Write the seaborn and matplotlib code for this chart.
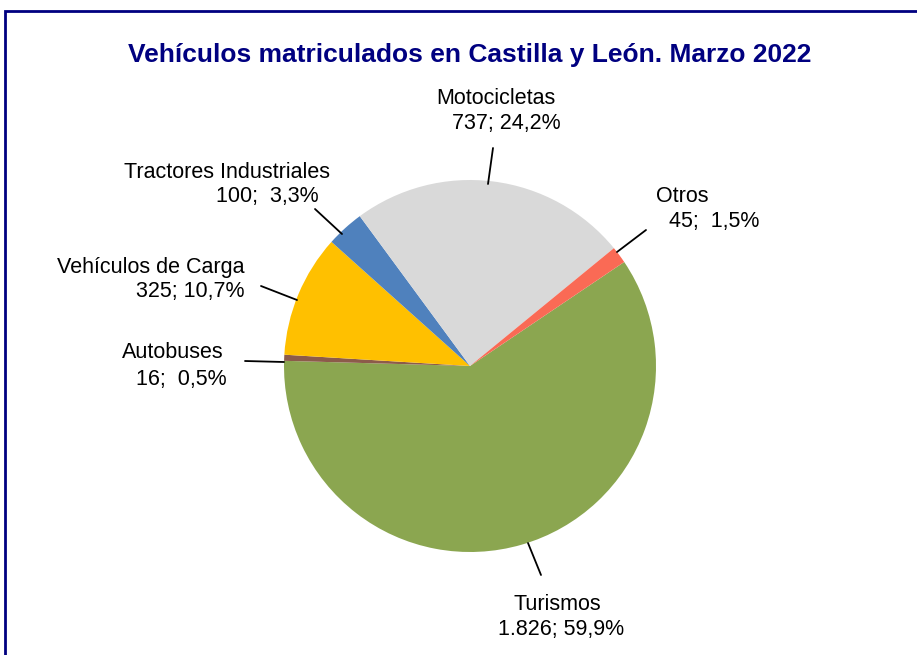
import numpy as np
import seaborn as sns
import matplotlib.pyplot as plt
from matplotlib.patches import Rectangle

categories = ["Turismos", "Autobuses", "Vehículos de Carga", "Tractores Industriales", "Motocicletas", "Otros"]
values = [1826, 16, 325, 100, 737, 45]
value_labels = ["1.826; 59,9%", "16;  0,5%", "325; 10,7%", "100;  3,3%", "737; 24,2%", "45;  1,5%"]
colors = ["#8BA650", "#8C5B4A", "#FFC000", "#4F81BD", "#D9D9D9", "#FA6A55"]

sns.set_theme(style="white")
plt.rcParams['font.family'] = ['Liberation Sans', 'DejaVu Sans']

W, H = 917, 655
CX, CY, R = 470, 366, 186  # pie centre/radius in pixels


def px(x, y):
    # pixel position -> data units (radius = 1)
    return (x - CX) / R, (CY - y) / R


# label layout in pixels: name line, value line, leader start, leader end
label_layout = {
    "Turismos": ((557, 604), (561, 630), (528, 543), (541, 575)),
    "Autobuses": ((173, 352), (181, 379), (284, 362), (245, 361)),
    "Vehículos de Carga": ((151, 267), (190, 291), (297, 300), (261, 286)),
    "Tractores Industriales": ((227, 172), (267, 196), (342, 234), (315, 209)),
    "Motocicletas": ((496, 98), (506, 124), (488, 184), (493, 148)),
    "Otros": ((682, 196), (714, 221), (617, 252), (646, 230)),
}

fig = plt.figure(figsize=(W / 100, H / 100), dpi=100)
ax = fig.add_axes([0, 0, 1, 1])

wedges, _ = ax.pie(values, colors=colors, startangle=34, counterclock=False,
                   radius=1, center=(0, 0), frame=True,
                   wedgeprops=dict(linewidth=0))
ax.set_xlim(-CX / R, (W - CX) / R)
ax.set_ylim(-(H - CY) / R, CY / R)
ax.set_aspect("auto")
ax.axis("off")

for cat, vl in zip(categories, value_labels):
    name_pos, val_pos, start_pos, end_pos = label_layout[cat]
    sx, sy = px(*start_pos)
    ex, ey = px(*end_pos)
    ax.plot([sx, ex], [sy, ey], color="black", lw=1.3)
    ax.text(*px(*name_pos), cat, ha="center", va="center", fontsize=15.5, color="black")
    ax.text(*px(*val_pos), vl, ha="center", va="center", fontsize=15.5, color="black")

fig.text(470 / W, 1 - 55 / H, "Vehículos matriculados en Castilla y León. Marzo 2022",
         ha="center", va="center", fontsize=19, fontweight="bold", color="#000080")

fig.patches.append(Rectangle((5 / W, -0.1), 1.2, 1.1 - 11 / H, transform=fig.transFigure,
                             fill=False, edgecolor="#000080", linewidth=2, clip_on=False))

fig.savefig("out.png", dpi=100)
